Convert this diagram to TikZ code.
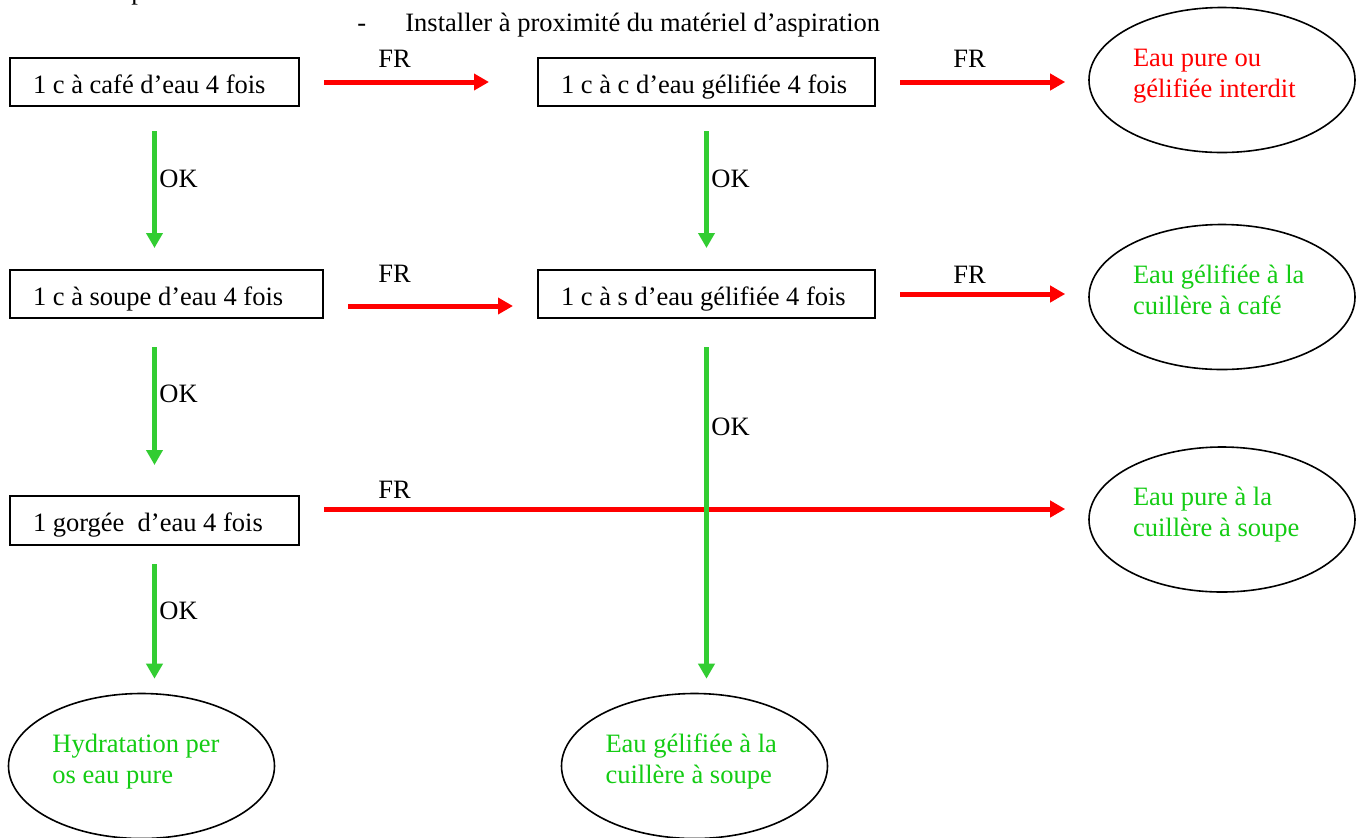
\documentclass[tikz,border=0pt]{standalone}
\usepackage{fontspec}
\setmainfont{Liberation Serif}
\usetikzlibrary{shapes.geometric,arrows.meta,calc}
\definecolor{frred}{RGB}{255,0,0}
\definecolor{okgreen}{RGB}{50,205,50}
\definecolor{txtgreen}{RGB}{20,204,20}
\begin{document}
\begin{tikzpicture}[x=0.5pt,y=-0.5pt,
  every node/.style={font=\fontsize{13.25pt}{15.5pt}\selectfont},
  stepbox/.style={draw, line width=1pt, anchor=north west, inner xsep=11.5pt, inner ysep=0pt,
    minimum height=24pt, align=flush left, text height=12pt, text depth=1pt},
  bubble/.style={draw, ellipse, line width=0.8pt, inner sep=0pt, minimum width=133pt,
    minimum height=72.5pt, text width=89pt, align=flush left, text=txtgreen, text height=2pt, text depth=16pt},
  frarrow/.style={draw=frred, line width=2.5pt, -{Triangle[length=7.5pt,width=8pt]}},
  okarrow/.style={draw=okgreen, line width=2.5pt, -{Triangle[length=7.5pt,width=8pt]}},
  lbl/.style={anchor=base west, inner sep=0pt}]
\useasboundingbox (0,0) rectangle (1361,837);
\fill[white] (0,0) rectangle (1361,837);

% cut-off text and heading
\node[lbl] (cut) at (131,-1) {p};
\node[lbl] (title) at (357,31) {-\hspace{19.6pt}Installer à proximité du matériel d’aspiration};

% boxes
\node[stepbox, text width=121.5pt] (b1) at (9,57) {1 c à café d’eau 4 fois};
\node[stepbox, text width=145.5pt] (b2) at (537,57) {1 c à c d’eau gélifiée 4 fois};
\node[stepbox, text width=133.5pt] (b3) at (9,269) {1 c à soupe d’eau 4 fois};
\node[stepbox, text width=145.5pt] (b4) at (537,269) {1 c à s d’eau gélifiée 4 fois};
\node[stepbox, text width=121.5pt, minimum height=24.5pt] (b5) at (9,495) {1 gorgée\ \ d’eau 4 fois};

% ellipses
\node[bubble, text=frred] (e1) at (1222,80) {Eau pure ou\\gélifiée interdit};
\node[bubble] (e2) at (1222,297) {Eau gélifiée à la\\cuillère à café};
\node[bubble] (e3) at (1222,519.5) {Eau pure à la\\cuillère à soupe};
\node[bubble] (e4) at (141.5,766) {Hydratation per\\os eau pure};
\node[bubble] (e5) at (694.5,766) {Eau gélifiée à la\\cuillère à soupe};

% start points of the lowered / raised arrows
\coordinate (s3) at ($(b3.east)+(0,12)$);
\coordinate (s5) at ($(b5.east)+(0,-11.5)$);

% red FR arrows
\draw[frarrow, shorten <=12pt, shorten >=24pt] (b1.east) -- (b2.west);
\draw[frarrow, shorten <=12pt, shorten >=11.5pt] (b2.east) -- (b2.east -| e1.west);
\draw[frarrow, shorten <=12pt, shorten >=12pt] (s3) -- (s3 -| b4.west);
\draw[frarrow, shorten <=12pt, shorten >=11.5pt] (b4.east) -- (b4.east -| e2.west);
\draw[frarrow, shorten <=12pt, shorten >=11.5pt] (s5) -- (s5 -| e3.west);

% green OK arrows
\draw[okarrow, shorten <=12pt, shorten >=10.5pt] (b1.south) -- (b1.south |- b3.north);
\draw[okarrow, shorten <=12pt, shorten >=10.5pt] (b2.south) -- (b2.south |- b4.north);
\draw[okarrow, shorten <=14pt, shorten >=15pt] (b5.north |- b3.south) -- (b5.north);
\draw[okarrow, shorten <=14pt, shorten >=7pt] (b4.south) -- (b4.south |- e5.north);
\draw[okarrow, shorten <=9pt, shorten >=7pt] (b5.south) -- (b5.south |- e4.north);

% labels
\node[lbl] (fr1) at (378,67) {FR};
\node[lbl] (fr2) at (953,67) {FR};
\node[lbl] (fr3) at (378,282) {FR};
\node[lbl] (fr4) at (953,283) {FR};
\node[lbl] (fr5) at (378,498) {FR};
\node[lbl] (ok1) at (159,187) {OK};
\node[lbl] (ok2) at (711,187) {OK};
\node[lbl] (ok3) at (159,402) {OK};
\node[lbl] (ok4) at (711,435) {OK};
\node[lbl] (ok5) at (159,619) {OK};
\end{tikzpicture}
\end{document}
